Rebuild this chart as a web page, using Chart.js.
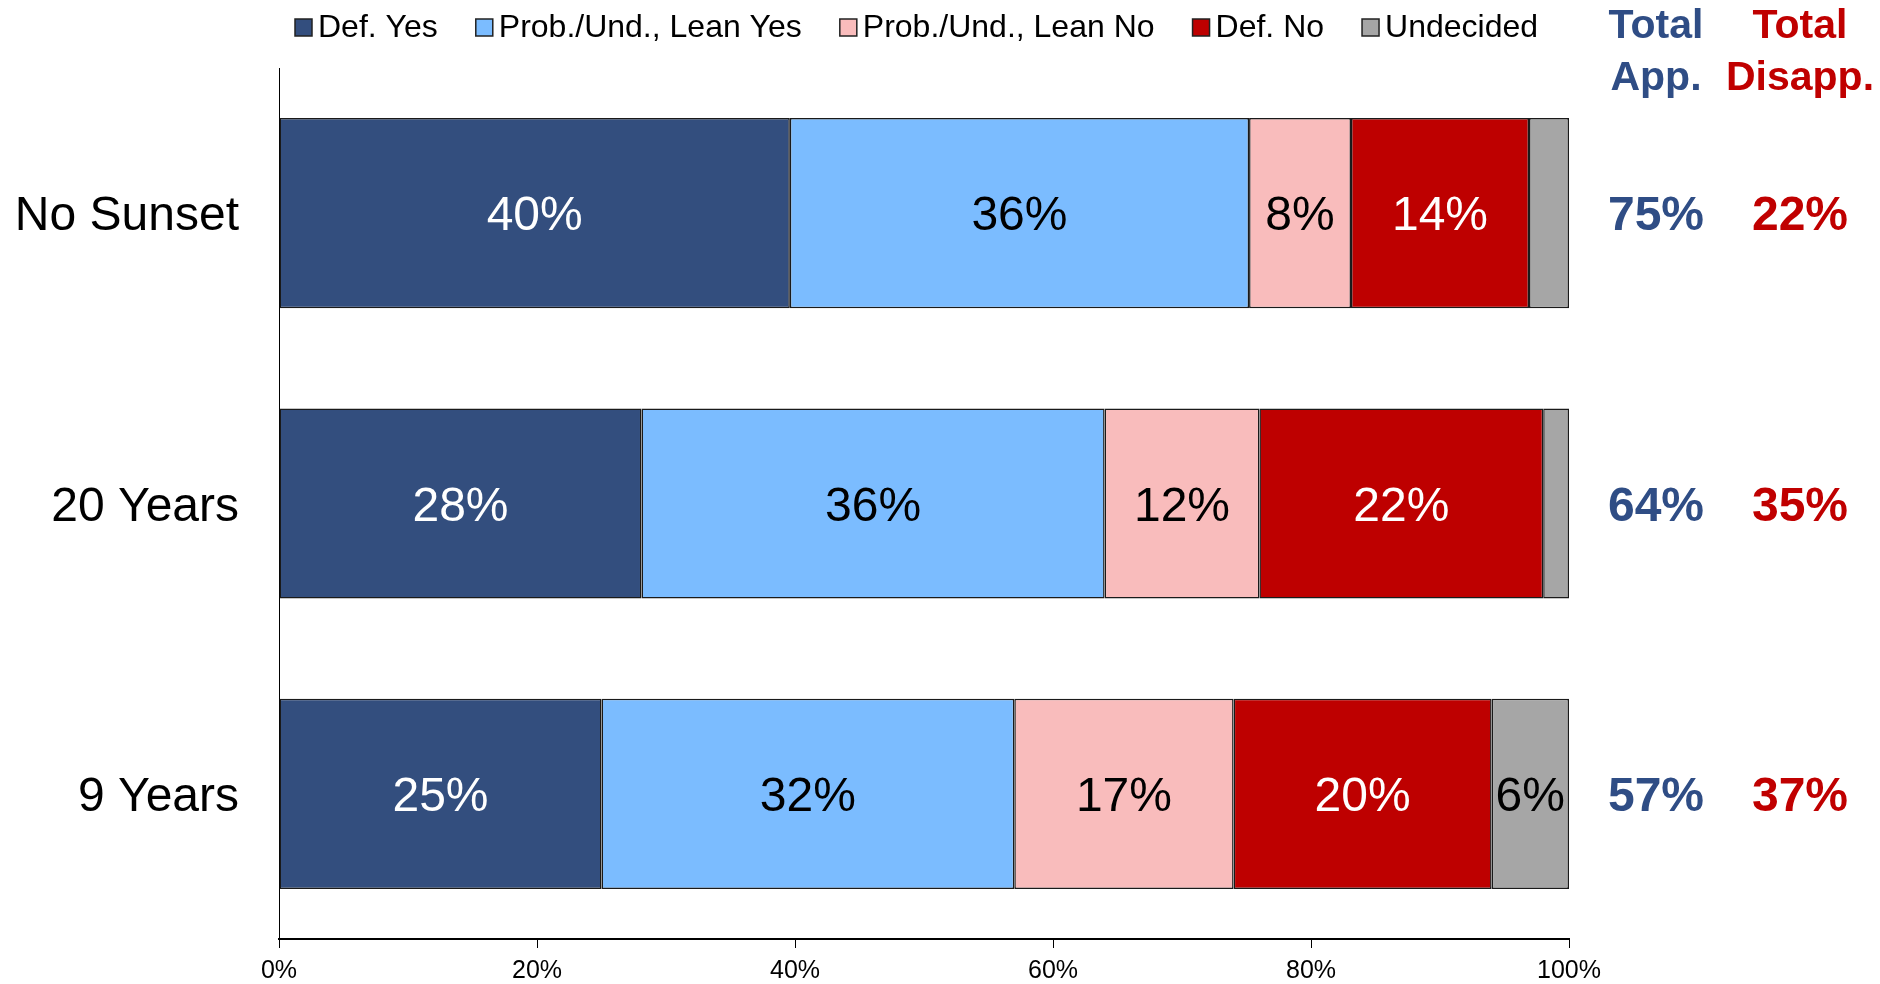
<!DOCTYPE html>
<html>
<head>
<meta charset="utf-8">
<script src="https://cdn.jsdelivr.net/npm/chart.js@4/dist/chart.umd.min.js"></script>
<style>
  html, body { margin: 0; padding: 0; background: #fff; }
  #wrap { width: 1880px; height: 984px; }
</style>
</head>
<body>
<div id="wrap"><canvas id="c" width="1880" height="984"></canvas></div>
<script>
// values (percent of respondents)
const categories = ["No Sunset", "20 Years", "9 Years"];
const defYes = [39.6, 28.1, 25.0];
const leanYes = [35.6, 35.9, 32.0];
const leanNo = [7.9, 12.0, 17.0];
const defNo = [13.8, 22.0, 20.0];
const undecided = [3.1, 2.0, 6.0];
const totalApp = [75, 64, 57];
const totalDisapp = [22, 35, 37];
const xTicks = [0, 20, 40, 60, 80, 100];

const FONT = '"Liberation Sans", Arial, sans-serif';
const BLUE_TXT = "#2F4D85";
const RED_TXT = "#C00000";

const series = [
  { label: "Def. Yes", data: defYes, color: "#334E7E", text: "#fff" },
  { label: "Prob./Und., Lean Yes", data: leanYes, color: "#7BBCFF", text: "#000" },
  { label: "Prob./Und., Lean No", data: leanNo, color: "#F9BCBC", text: "#000" },
  { label: "Def. No", data: defNo, color: "#BE0000", text: "#fff" },
  { label: "Undecided", data: undecided, color: "#A6A6A6", text: "#000" },
];

// legend along the top + totals columns on the right
const extras = {
  id: "extras",
  afterDraw(chart) {
    const ctx = chart.ctx;
    ctx.save();

    // legend
    ctx.font = `32px ${FONT}`;
    ctx.textBaseline = "alphabetic";
    ctx.textAlign = "left";
    let x = 295;
    series.forEach((s) => {
      ctx.fillStyle = s.color;
      ctx.fillRect(x, 19, 17, 17);
      ctx.strokeStyle = "#222";
      ctx.lineWidth = 1.5;
      ctx.strokeRect(x, 19, 17, 17);
      ctx.fillStyle = "#000";
      ctx.fillText(s.label, x + 23, 37);
      x += 23 + ctx.measureText(s.label).width + 38;
    });

    // totals headers
    const colApp = 1656, colDis = 1800;
    ctx.font = `bold 41px ${FONT}`;
    ctx.textAlign = "center";
    ctx.fillStyle = BLUE_TXT;
    ctx.fillText("Total", colApp, 38);
    ctx.fillText("App.", colApp, 90);
    ctx.fillStyle = RED_TXT;
    ctx.fillText("Total", colDis, 38);
    ctx.fillText("Disapp.", colDis, 90);

    // totals values
    const yScale = chart.scales.y;
    ctx.font = `bold 48px ${FONT}`;
    ctx.textBaseline = "middle";
    categories.forEach((c, i) => {
      const y = yScale.getPixelForValue(i) + 4;
      ctx.fillStyle = BLUE_TXT;
      ctx.fillText(totalApp[i] + "%", colApp, y);
      ctx.fillStyle = RED_TXT;
      ctx.fillText(totalDisapp[i] + "%", colDis, y);
    });
    ctx.restore();
  },
  afterDatasetsDraw(chart) {
    const ctx = chart.ctx;
    ctx.save();
    ctx.font = `48px ${FONT}`;
    ctx.textAlign = "center";
    ctx.textBaseline = "middle";
    chart.data.datasets.forEach((ds, di) => {
      const meta = chart.getDatasetMeta(di);
      meta.data.forEach((bar, j) => {
        const v = ds.data[j];
        if (v < 5) return;
        ctx.fillStyle = series[di].text;
        ctx.fillText(Math.round(v) + "%", (bar.x + bar.base) / 2, bar.y + 4);
      });
    });
    ctx.restore();
  },
};

new Chart(document.getElementById("c"), {
  type: "bar",
  data: {
    labels: categories,
    datasets: series.map((s) => ({
      label: s.label,
      data: s.data,
      backgroundColor: s.color,
      borderColor: "#1a1a1a",
      borderWidth: 1.5,
      borderSkipped: false,
      categoryPercentage: 1,
      barPercentage: 0.655,
    })),
  },
  options: {
    indexAxis: "y",
    responsive: false,
    animation: false,
    events: [],
    layout: { padding: { top: 68, right: 311, left: 0, bottom: 0 } },
    plugins: { legend: { display: false }, tooltip: { enabled: false } },
    scales: {
      x: {
        stacked: true,
        min: 0,
        max: 100,
        afterBuildTicks(scale) {
          scale.ticks = xTicks.map((v) => ({ value: v }));
        },
        afterFit(scale) {
          scale.height = 45;
          scale.paddingLeft = 0;
          scale.paddingRight = 0;
        },
        grid: {
          drawOnChartArea: false,
          drawTicks: true,
          tickLength: 9,
          color: "#000",
          lineWidth: 1,
        },
        border: { display: true, color: "#000", width: 2 },
        ticks: {
          color: "#000",
          padding: 8,
          maxRotation: 0,
          font: { family: FONT, size: 25 },
          callback: (v) => v + "%",
        },
      },
      y: {
        stacked: true,
        afterFit(scale) {
          scale.width = 279;
          scale.paddingTop = 0;
          scale.paddingBottom = 0;
        },
        grid: { display: false },
        border: { display: true, color: "#000", width: 1 },
        ticks: {
          color: "#000",
          padding: 32,
          labelOffset: 4,
          font: { family: FONT, size: 48 },
        },
      },
    },
  },
  plugins: [extras],
});
</script>
</body>
</html>
